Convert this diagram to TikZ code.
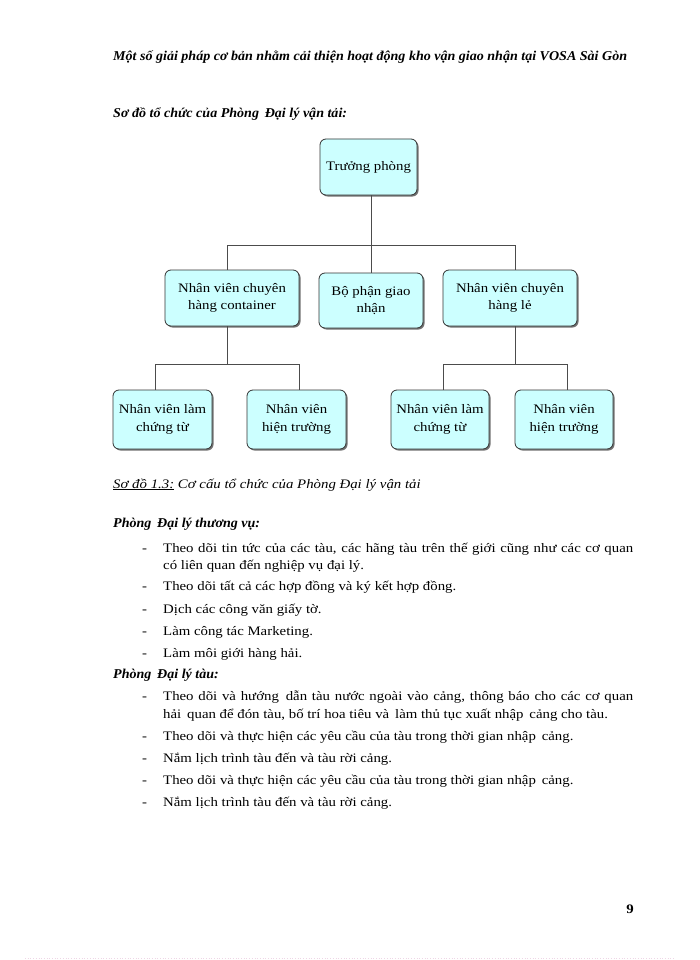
\documentclass[tikz,border=0pt]{standalone}
\usepackage{fontspec}
\setmainfont{Liberation Serif}[FakeStretch=1.14]
\newfontfamily\hdrfont{Liberation Serif}[FakeStretch=1.04]
\usetikzlibrary{shadows}
\definecolor{boxfill}{HTML}{CCFFFF}
\definecolor{boxline}{HTML}{333333}
\definecolor{dotpink}{HTML}{EED6E6}
\begin{document}
\begin{tikzpicture}[x=1pt,y=-1pt,
  orgbox/.style={draw=boxline, line width=0.8pt, fill=boxfill, rounded corners=6pt,
    align=center, inner sep=0pt, font=\fontsize{13}{17.5}\selectfont,
    drop shadow={shadow xshift=1.5pt, shadow yshift=-1.5pt, fill=black!55, opacity=1}},
  conn/.style={draw=black!70, line width=0.9pt},
  body/.style={anchor=base west, inner sep=0pt, font=\fontsize{13}{17.5}\selectfont},
  para/.style={anchor=north west, inner sep=0pt, text width=470pt, align=justify, font=\fontsize{13}{17.7}\selectfont},
  dashmark/.style={anchor=base west, inner sep=0pt, font=\fontsize{13}{17}\selectfont},
  heading/.style={anchor=base west, inner sep=0pt, font=\hdrfont\fontsize{13.5}{17}\selectfont\bfseries\itshape}]
\useasboundingbox (0,0) rectangle (700,960);
\fill[white] (0,0) rectangle (700,960);

% header and title
\node[heading] (hdr) at (113,61) {Một số giải pháp cơ bản nhằm cải thiện hoạt động kho vận giao nhận tại VOSA Sài Gòn};
\node[heading] (ttl) at (113,118) {Sơ đồ tổ chức của Phòng\, Đại lý vận tải:};

% org chart
\node[orgbox, minimum width=97pt, minimum height=56pt] (tp) at (368.5,167) {Trưởng phòng};
\node[orgbox, minimum width=134pt, minimum height=56pt] (nvc) at (232,298) {Nhân viên chuyên\\hàng container};
\node[orgbox, minimum width=104pt, minimum height=55pt] (bp) at (371,300.5) {Bộ phận giao\\nhận};
\node[orgbox, minimum width=134pt, minimum height=56pt] (nvl) at (510,298) {Nhân viên chuyên\\hàng lẻ};
\node[orgbox, minimum width=99pt, minimum height=59pt] (b1) at (162.5,419.5) {Nhân viên làm\\chứng từ};
\node[orgbox, minimum width=99pt, minimum height=59pt] (b2) at (296.5,419.5) {Nhân viên\\hiện trường};
\node[orgbox, minimum width=98pt, minimum height=59pt] (b3) at (440,419.5) {Nhân viên làm\\chứng từ};
\node[orgbox, minimum width=98pt, minimum height=59pt] (b4) at (564,419.5) {Nhân viên\\hiện trường};

\coordinate (busL) at (227,245);
\coordinate (busR) at (515,245);
\coordinate (jL) at (227,364);
\coordinate (dL1) at (155,364);
\coordinate (dL2) at (299,364);
\coordinate (jR) at (515,364);
\coordinate (dR1) at (443,364);
\coordinate (dR2) at (567,364);

\draw[conn] (tp.south -| bp.north) -- (bp.north);
\draw[conn] (nvc.north -| busL) -- (busL) -- (busR) -- (nvl.north -| busR);
\draw[conn] (nvc.south -| jL) -- (jL);
\draw[conn] (b1.north -| dL1) -- (dL1) -- (dL2) -- (b2.north -| dL2);
\draw[conn] (nvl.south -| jR) -- (jR);
\draw[conn] (b3.north -| dR1) -- (dR1) -- (dR2) -- (b4.north -| dR2);

% caption
\node[anchor=base west, inner sep=0pt, font=\fontsize{13}{17}\selectfont\itshape] (cap) at (113,488)
  {\underline{Sơ đồ 1.3:} Cơ cấu tổ chức của Phòng Đại lý vận tải};

% section 1
\node[heading] (s1) at (113,527) {Phòng\, Đại lý thương vụ:};
\node[dashmark] (d11) at (142,552) {-};
\node[para] (t11) at (163,542.5) {Theo dõi tin tức của các tàu, các hãng tàu trên thế giới cũng như các cơ quan\linebreak có liên quan đến nghiệp vụ đại lý.};
\node[dashmark] (d12) at (142,590) {-};
\node[body] (t12) at (163,590) {Theo dõi tất cả các hợp đồng và ký kết hợp đồng.};
\node[dashmark] (d13) at (142,613) {-};
\node[body] (t13) at (163,613) {Dịch các công văn giấy tờ.};
\node[dashmark] (d14) at (142,635) {-};
\node[body] (t14) at (163,635) {Làm công tác Marketing.};
\node[dashmark] (d15) at (142,657) {-};
\node[body] (t15) at (163,657) {Làm môi giới hàng hải.};

% section 2
\node[heading] (s2) at (113,678) {Phòng\, Đại lý tàu:};
\node[dashmark] (d21) at (142,700) {-};
\node[para] (t21) at (163,690.5) {Theo dõi và hướng\, dẫn tàu nước ngoài vào cảng, thông báo cho các cơ quan\linebreak hải\, quan để đón tàu, bố trí hoa tiêu và\, làm thủ tục xuất nhập\, cảng cho tàu.};
\node[dashmark] (d22) at (142,740) {-};
\node[body] (t22) at (163,740) {Theo dõi và thực hiện các yêu cầu của tàu trong thời gian nhập\, cảng.};
\node[dashmark] (d23) at (142,762) {-};
\node[body] (t23) at (163,762) {Nắm lịch trình tàu đến và tàu rời cảng.};
\node[dashmark] (d24) at (142,784) {-};
\node[body] (t24) at (163,784) {Theo dõi và thực hiện các yêu cầu của tàu trong thời gian nhập\, cảng.};
\node[dashmark] (d25) at (142,806) {-};
\node[body] (t25) at (163,806) {Nắm lịch trình tàu đến và tàu rời cảng.};

% page number
\node[anchor=base, inner sep=0pt, font=\fontsize{13}{17}\selectfont\bfseries] (pg) at (630,913) {9};

% faint dotted page edge
\draw[dotpink, line width=0.7pt, dotted] (25,958.5) -- (674,958.5);
\end{tikzpicture}
\end{document}
